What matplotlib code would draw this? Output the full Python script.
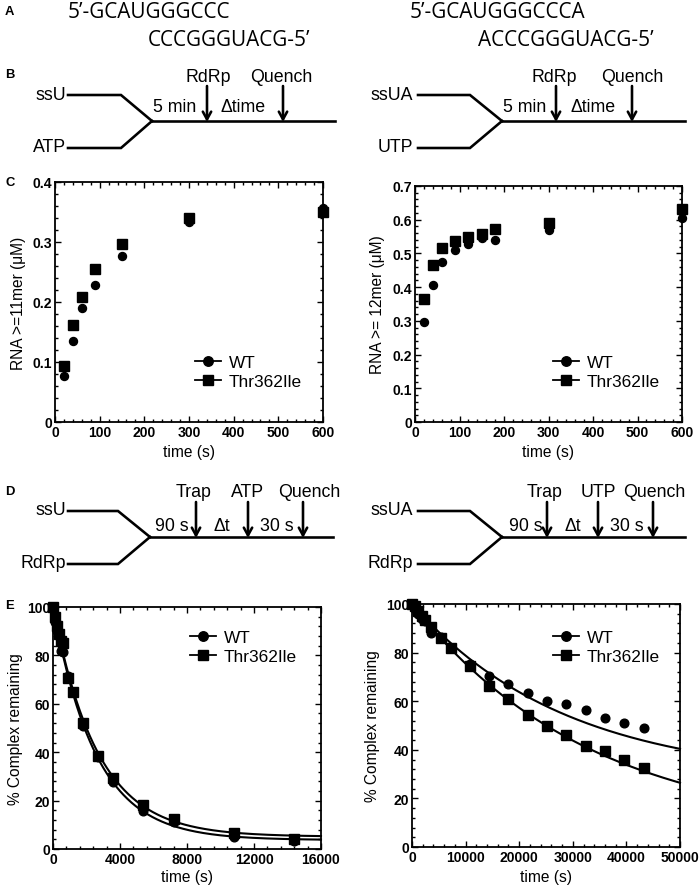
import numpy as np
import matplotlib
matplotlib.use('Agg')
import matplotlib.pyplot as plt
from matplotlib.lines import Line2D
from matplotlib.ticker import MultipleLocator

plt.rcParams['font.family'] = ['Liberation Sans', 'DejaVu Sans']

# ---------------- data ----------------
seq_left_top = "5\u2019-GCAUGGGCCC"
seq_left_bot = "CCCGGGUACG-5\u2019"
seq_right_top = "5\u2019-GCAUGGGCCCA"
seq_right_bot = "ACCCGGGUACG-5\u2019"

c_time_left = [20, 40, 60, 90, 150, 300, 600]
c_wt_left = [0.077, 0.135, 0.190, 0.229, 0.276, 0.333, 0.357]
c_mut_left = [0.094, 0.162, 0.209, 0.255, 0.297, 0.340, 0.350]

c_time_right = [20, 40, 60, 90, 120, 150, 180, 300, 600]
c_wt_right = [0.296, 0.405, 0.476, 0.510, 0.527, 0.545, 0.540, 0.569, 0.604]
c_mut_right = [0.366, 0.467, 0.515, 0.536, 0.550, 0.557, 0.571, 0.590, 0.633]

e_time_left = [0, 120, 240, 360, 480, 600, 900, 1200, 1800, 2700, 3600, 5400, 7200, 10800, 14400]
e_wt_left = [100, 94, 90, 88, 82, 81.5, 71.5, 65, 51, 38, 27.5, 15.8, 11, 5, 3.5]
e_mut_left = [100, 96, 92, 89, 86, 85, 70.5, 65, 52, 38.5, 29.5, 18, 12.5, 6.5, 4.2]
# single-exponential fits: A*exp(-k t) + C
fit_wt_left = (96.3, 3.9e-4, 3.7)
fit_mut_left = (94.9, 3.75e-4, 5.1)

e_time_right = [0, 600, 1200, 1800, 2400, 3600, 5400, 7200, 10800, 14400, 18000,
                21600, 25200, 28800, 32400, 36000, 39600, 43200]
e_wt_right = [100, 98, 96, 94, 93, 88, 86.3, 82, 75.3, 70.3, 67, 63.4, 59.9, 58.9,
              56.2, 53, 51.1, 48.9]
e_mut_right = [100, 99, 97, 95, 93.5, 90.5, 86, 81.8, 74.4, 66.4, 60.7, 54.5, 49.6,
               45.9, 41.4, 39.7, 35.6, 32.6]
fit_wt_right = (72.3, 3.48e-5, 27.7)
fit_mut_right = (94.7, 3.0e-5, 5.3)

series_labels = ["WT", "Thr362Ile"]

# ---------------- figure ----------------
W, H = 700, 887
fig = plt.figure(figsize=(7, 8.87), dpi=100)

def PT(px):
    return px * 0.72

def rect(x0, y0, x1, y1):
    return [x0 / W, 1 - y1 / H, (x1 - x0) / W, (y1 - y0) / H]

def fxy(x, y):
    return (x / W, 1 - y / H)

# overlay axes for diagrams / text in pixel coordinates
ov = fig.add_axes([0, 0, 1, 1])
ov.set_xlim(0, W)
ov.set_ylim(H, 0)
ov.axis('off')

lw_d = PT(2.6)
tfs = PT(17.8)

# panel letters
for lab, (x, y) in zip("ABCDE", [(5, 12), (5, 75), (5, 183), (5, 492), (5, 606)]):
    ov.text(x, y, lab, fontsize=PT(13), fontweight='bold', va='center', ha='left')

# panel A sequences
seq_font = dict(fontsize=PT(20.8), family=['Open Sans', 'DejaVu Sans'], va='center', ha='left')
ov.text(68, 13, seq_left_top, **seq_font)
ov.text(148, 40, seq_left_bot, **seq_font)
ov.text(410, 13, seq_right_top, **seq_font)
ov.text(478, 40, seq_right_bot, **seq_font)


def mixer(xs, xk, xm, xe, yt, yb, ym):
    ov.plot([xs, xk, xm], [yt, yt, ym], color='k', lw=lw_d, solid_joinstyle='miter')
    ov.plot([xs, xk, xm], [yb, yb, ym], color='k', lw=lw_d, solid_joinstyle='miter')
    ov.plot([xm, xe], [ym, ym], color='k', lw=lw_d)


def arrow(x, y0, y1):
    ov.annotate('', xy=(x, y1), xytext=(x, y0),
                arrowprops=dict(arrowstyle='->,head_length=0.55,head_width=0.3',
                                color='k', lw=lw_d, shrinkA=0, shrinkB=0))

# panel B
mixer(68, 121, 152, 335, 96, 149, 122)
ov.text(66, 95, "ssU", fontsize=tfs, ha='right', va='center')
ov.text(66, 148, "ATP", fontsize=tfs, ha='right', va='center')
arrow(207, 87, 123)
arrow(283, 87, 123)
ov.text(208, 77, "RdRp", fontsize=tfs, ha='center', va='center')
ov.text(281, 77, "Quench", fontsize=tfs, ha='center', va='center')
ov.text(175, 108, "5 min", fontsize=tfs, ha='center', va='center')
ov.text(243, 108, "\u0394time", fontsize=tfs, ha='center', va='center')

mixer(418, 470, 502, 685, 96, 149, 122)
ov.text(413, 95, "ssUA", fontsize=tfs, ha='right', va='center')
ov.text(413, 148, "UTP", fontsize=tfs, ha='right', va='center')
arrow(556, 87, 123)
arrow(632, 87, 123)
ov.text(554, 77, "RdRp", fontsize=tfs, ha='center', va='center')
ov.text(632, 77, "Quench", fontsize=tfs, ha='center', va='center')
ov.text(525, 108, "5 min", fontsize=tfs, ha='center', va='center')
ov.text(593, 108, "\u0394time", fontsize=tfs, ha='center', va='center')

# panel D
mixer(68, 118, 150, 333, 512, 565, 538)
ov.text(66, 511, "ssU", fontsize=tfs, ha='right', va='center')
ov.text(66, 564, "RdRp", fontsize=tfs, ha='right', va='center')
for x in (196, 248, 303):
    arrow(x, 503, 539)
ov.text(194, 493, "Trap", fontsize=tfs, ha='center', va='center')
ov.text(248, 493, "ATP", fontsize=tfs, ha='center', va='center')
ov.text(309, 493, "Quench", fontsize=tfs, ha='center', va='center')
ov.text(172, 527, "90 s", fontsize=tfs, ha='center', va='center')
ov.text(222, 527, "\u0394t", fontsize=tfs, ha='center', va='center')
ov.text(277, 527, "30 s", fontsize=tfs, ha='center', va='center')

mixer(418, 470, 502, 685, 512, 565, 538)
ov.text(413, 511, "ssUA", fontsize=tfs, ha='right', va='center')
ov.text(413, 564, "RdRp", fontsize=tfs, ha='right', va='center')
for x in (547, 598, 653):
    arrow(x, 503, 539)
ov.text(545, 493, "Trap", fontsize=tfs, ha='center', va='center')
ov.text(598, 493, "UTP", fontsize=tfs, ha='center', va='center')
ov.text(654, 493, "Quench", fontsize=tfs, ha='center', va='center')
ov.text(526, 527, "90 s", fontsize=tfs, ha='center', va='center')
ov.text(573, 527, "\u0394t", fontsize=tfs, ha='center', va='center')
ov.text(627, 527, "30 s", fontsize=tfs, ha='center', va='center')

# ---------------- data axes ----------------
tick_fs = PT(14)
lab_fs = PT(15.5)
leg_fs = PT(17.2)


def style(ax, xmaj, xmin, ymaj, ymin):
    ax.xaxis.set_major_locator(MultipleLocator(xmaj))
    ax.xaxis.set_minor_locator(MultipleLocator(xmin))
    ax.yaxis.set_major_locator(MultipleLocator(ymaj))
    ax.yaxis.set_minor_locator(MultipleLocator(ymin))
    ax.tick_params(which='both', direction='in', top=True, right=True, width=1.0,
                   labelsize=tick_fs, pad=2)
    ax.tick_params(which='major', length=4.5)
    ax.tick_params(which='minor', length=2.5)
    for lab in ax.get_xticklabels() + ax.get_yticklabels():
        lab.set_fontweight('bold')
    for s in ax.spines.values():
        s.set_linewidth(1.3)


def labels(ax, ylab, yx, xy):
    ax.set_xlabel("time (s)", fontsize=lab_fs)
    ax.set_ylabel(ylab, fontsize=lab_fs)
    ax.yaxis.set_label_coords(yx, 0.5)
    ax.xaxis.set_label_coords(0.5, xy)


def legend(ax, x, y):
    handles = [Line2D([], [], color='k', lw=1.3, marker='o', markersize=PT(9.5)),
               Line2D([], [], color='k', lw=1.3, marker='s', markersize=PT(10))]
    ax.legend(handles, series_labels, loc='center left', bbox_to_anchor=fxy(x, y),
              bbox_transform=fig.transFigure, frameon=False, fontsize=leg_fs,
              handlelength=1.5, handletextpad=0.45, labelspacing=0.2,
              borderpad=0, borderaxespad=0)

ms_c = PT(8)
ms_s = PT(9.5)

# C left
ax = fig.add_axes(rect(55, 183, 323, 423))
ax.plot(c_time_left, c_wt_left, 'o', color='k', ms=ms_c)
ax.plot(c_time_left, c_mut_left, 's', color='k', ms=ms_s)
ax.set_xlim(0, 600)
ax.set_ylim(0, 0.4)
style(ax, 100, 20, 0.1, 0.02)
ax.set_yticks([0, 0.1, 0.2, 0.3, 0.4])
ax.set_yticklabels(['0', '0.1', '0.2', '0.3', '0.4'], fontweight='bold')
labels(ax, "RNA >=11mer (\u03bcM)", -0.108, -0.092)
legend(ax, 195, 373)

# C right
ax = fig.add_axes(rect(415, 187, 682, 423))
ax.plot(c_time_right, c_wt_right, 'o', color='k', ms=ms_c)
ax.plot(c_time_right, c_mut_right, 's', color='k', ms=ms_s)
ax.set_xlim(0, 600)
ax.set_ylim(0, 0.7)
style(ax, 100, 20, 0.1, 0.02)
ax.set_yticks([0, 0.1, 0.2, 0.3, 0.4, 0.5, 0.6, 0.7])
ax.set_yticklabels(['0', '0.1', '0.2', '0.3', '0.4', '0.5', '0.6', '0.7'], fontweight='bold')
labels(ax, "RNA >= 12mer (\u03bcM)", -0.112, -0.092)
legend(ax, 553, 373)


def fit_curve(p, t):
    A, k, C = p
    return A * np.exp(-k * t) + C

# E left
ax = fig.add_axes(rect(53, 608, 321, 850))
tt = np.linspace(0, 16000, 400)
ax.plot(tt, fit_curve(fit_wt_left, tt), color='k', lw=1.5)
ax.plot(tt, fit_curve(fit_mut_left, tt), color='k', lw=1.5)
ax.plot(e_time_left, e_wt_left, 'o', color='k', ms=ms_c + 0.5)
ax.plot(e_time_left, e_mut_left, 's', color='k', ms=ms_s)
ax.set_xlim(0, 16000)
ax.set_ylim(0, 100)
style(ax, 4000, 800, 20, 4)
labels(ax, "% Complex remaining", -0.112, -0.083)
legend(ax, 190, 648)

# E right
ax = fig.add_axes(rect(412, 605, 680, 848))
tt = np.linspace(0, 50000, 400)
ax.plot(tt, fit_curve(fit_wt_right, tt), color='k', lw=1.5)
ax.plot(tt, fit_curve(fit_mut_right, tt), color='k', lw=1.5)
ax.plot(e_time_right, e_wt_right, 'o', color='k', ms=ms_c + 0.5)
ax.plot(e_time_right, e_mut_right, 's', color='k', ms=ms_s)
ax.set_xlim(0, 50000)
ax.set_ylim(0, 100)
style(ax, 10000, 2000, 20, 4)
labels(ax, "% Complex remaining", -0.119, -0.091)
legend(ax, 553, 648)

for a in fig.axes[1:]:
    for c in a.collections + a.lines:
        c.set_clip_on(False)

fig.savefig("out.png", dpi=100)
